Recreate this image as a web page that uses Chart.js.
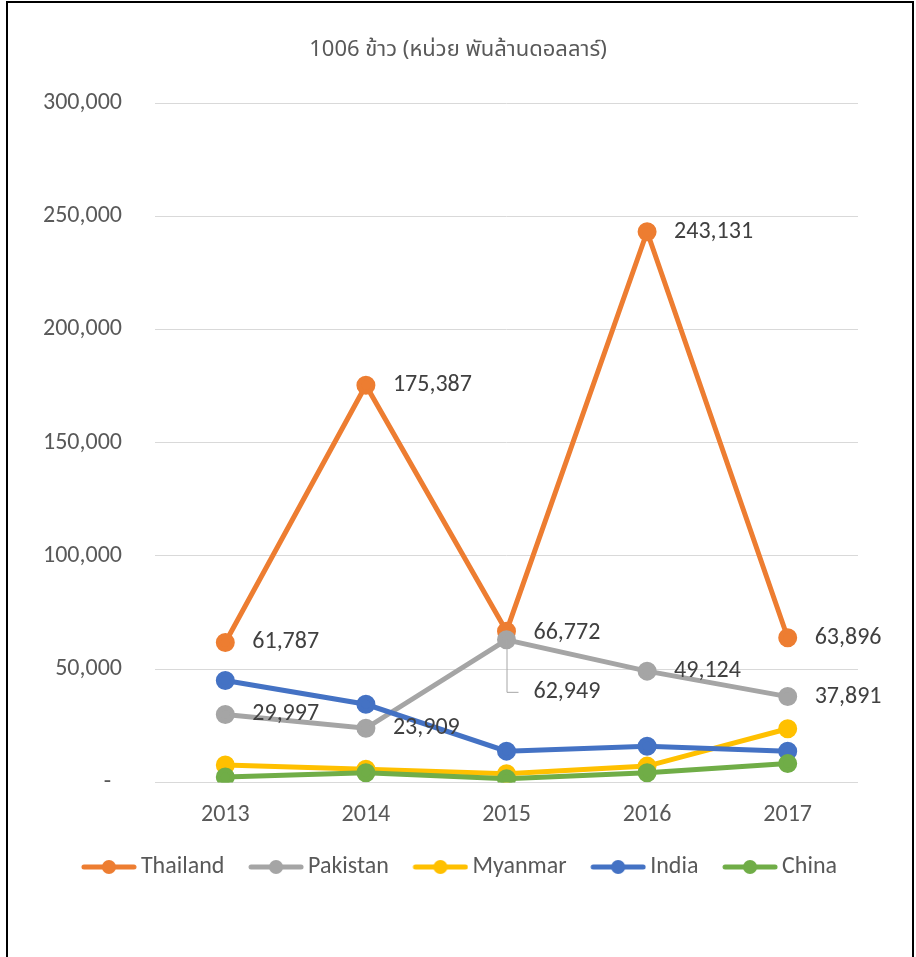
<!DOCTYPE html>
<html>
<head>
<meta charset="utf-8">
<script src="https://cdn.jsdelivr.net/npm/chart.js@4/dist/chart.umd.min.js"></script>
<style>
  html, body { margin: 0; padding: 0; background: #fff; }
  #frame {
    position: absolute; left: 6px; top: 1px; width: 908px; height: 980px;
    border: 2px solid #000; border-bottom: none; box-sizing: border-box;
  }
  #wrap { position: absolute; left: 0; top: 0; width: 916px; height: 957px; }
</style>
</head>
<body>
<div id="wrap"><canvas id="chart"></canvas></div>
<div id="frame"></div>
<script>
// ---- data ----
const years = ['2013', '2014', '2015', '2016', '2017'];
const thailand = [61787, 175387, 66772, 243131, 63896];
const pakistan = [29997, 23909, 62949, 49124, 37891];
const myanmar  = [7700, 5800, 3800, 7200, 23700];
const india    = [45000, 34500, 13800, 16000, 13800];
const china    = [2400, 4300, 1600, 4300, 8300];
const yTicks   = [0, 50000, 100000, 150000, 200000, 250000, 300000];

// label offsets (px) for the two labelled series
const thaiLabelDy = [0, 0, 2, 0, 0];
const pakLabelDy  = [0, 0, 52, 0, 0];

const FONT = "Calibri, Carlito, 'Open Sans', sans-serif";
const TEXT = '#595959';
const FS = 24;

// legend marker: short line with a dot, drawn at the right end of a wider image
const MARK_BOX = 50;
function legendMarker(color) {
  const c = document.createElement('canvas');
  c.width = MARK_BOX + 16; c.height = 16;
  const g = c.getContext('2d');
  const x0 = c.width - 56;
  g.strokeStyle = color; g.lineWidth = 5; g.lineCap = 'round';
  g.beginPath(); g.moveTo(x0 + 3, 8); g.lineTo(x0 + 53, 8); g.stroke();
  g.fillStyle = color;
  g.beginPath(); g.arc(x0 + 28, 8, 7, 0, Math.PI * 2); g.fill();
  return c;
}

function serie(label, data, color, order) {
  return {
    label, data, order, yAxisID: 'y',
    borderColor: color, backgroundColor: color,
    borderWidth: 5, pointRadius: 7, pointHoverRadius: 7,
    pointBackgroundColor: color, pointBorderColor: color,
    tension: 0, fill: false,
    pointStyle: 'circle',
    _marker: legendMarker(color)
  };
}

// data labels drawn next to points
const valueLabels = {
  id: 'valueLabels',
  afterDatasetsDraw(chart) {
    const ctx = chart.ctx;
    const sets = [[0, thaiLabelDy], [1, pakLabelDy]];
    ctx.save();
    ctx.font = FS + 'px ' + FONT;
    ctx.fillStyle = '#404040';
    ctx.textAlign = 'left';
    ctx.textBaseline = 'middle';
    sets.forEach(([di, offs]) => {
      const meta = chart.getDatasetMeta(di);
      const vals = chart.data.datasets[di].data;
      meta.data.forEach((pt, i) => {
        const dy = offs[i];
        const tx = pt.x + 27, ty = pt.y + dy;
        if (dy > 20) {
          ctx.strokeStyle = '#A6A6A6';
          ctx.lineWidth = 1;
          ctx.beginPath();
          ctx.moveTo(pt.x + 0.5, pt.y);
          ctx.lineTo(pt.x + 0.5, ty + 0.5);
          ctx.lineTo(pt.x + 12, ty + 0.5);
          ctx.stroke();
        }
        ctx.fillText(vals[i].toLocaleString('en-US'), tx, ty);
      });
    });
    ctx.restore();
  }
};

new Chart(document.getElementById('chart'), {
  type: 'line',
  data: {
    labels: years,
    datasets: [
      serie('Thailand', thailand, '#ED7D31', 5),
      serie('Pakistan', pakistan, '#A5A5A5', 4),
      serie('Myanmar', myanmar, '#FFC000', 3),
      serie('India', india, '#4472C4', 2),
      serie('China', china, '#70AD47', 1)
    ]
  },
  options: {
    responsive: true,
    maintainAspectRatio: false,
    animation: false,
    layout: { padding: { left: 0, right: 0, top: 30, bottom: 68 } },
    plugins: {
      title: {
        display: true,
        text: '1006 ข้าว (หน่วย พันล้านดอลลาร์)',
        color: TEXT,
        font: { family: "'Noto Sans Thai', 'DejaVu Sans', sans-serif", size: 22, weight: 'normal' },
        padding: { top: 8, bottom: 38.6 }
      },
      legend: {
        position: 'bottom',
        labels: {
          usePointStyle: true,
          pointStyleWidth: MARK_BOX,
          color: TEXT,
          font: { family: FONT, size: FS },
          padding: 21.6,
          sort: (a, b) => a.datasetIndex - b.datasetIndex,
          generateLabels(chart) {
            return chart.data.datasets.map((ds, i) => ({
              text: ds.label,
              fillStyle: ds.borderColor,
              strokeStyle: ds.borderColor,
              fontColor: TEXT,
              pointStyle: ds._marker,
              hidden: false,
              lineWidth: 0,
              datasetIndex: i
            }));
          }
        }
      },
      tooltip: { enabled: false }
    },
    scales: {
      x: {
        offset: true,
        afterFit(scale) { scale.height = 51; },
        grid: { display: false, drawTicks: false },
        border: { display: false },
        ticks: { color: TEXT, font: { family: FONT, size: FS }, padding: 18 }
      },
      y: {
        min: 0, max: 300000,
        afterFit(scale) { scale.width = 155; },
        afterBuildTicks(scale) { scale.ticks = yTicks.map(v => ({ value: v })); },
        grid: { color: '#D9D9D9', lineWidth: 1, drawTicks: false },
        border: { display: false },
        ticks: {
          color: TEXT,
          font: { family: FONT, size: FS },
          padding: 33,
          callback: v => v === 0 ? '-  ' : v.toLocaleString('en-US')
        }
      },
      // empty right-hand margin so the plot ends where the reference does
      yRight: {
        position: 'right',
        afterFit(scale) { scale.width = 58; },
        grid: { display: false, drawTicks: false },
        border: { display: false },
        ticks: { display: false }
      }
    }
  },
  plugins: [valueLabels]
});
</script>
</body>
</html>
